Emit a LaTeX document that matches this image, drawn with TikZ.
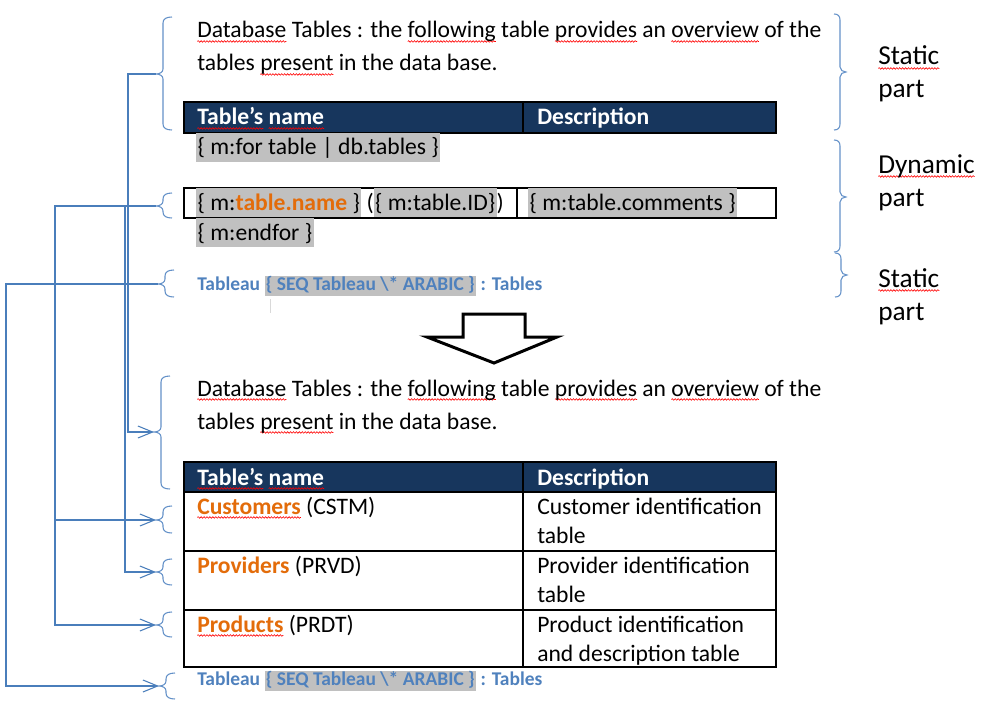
\documentclass[tikz,border=0pt]{standalone}
\usepackage{fontspec}
\setmainfont{Carlito}
\usetikzlibrary{arrows.meta,decorations.pathmorphing}

\definecolor{navy}{RGB}{23,54,93}
\definecolor{orng}{RGB}{227,108,10}
\definecolor{capblue}{RGB}{79,129,189}
\definecolor{hlgray}{RGB}{192,192,192}
\definecolor{linkblue}{RGB}{74,126,187}
\definecolor{bracecol}{RGB}{100,145,200}

\newsavebox\sqbox
\newcommand\sq[1]{\sbox\sqbox{#1}\leavevmode\rlap{\tikz[overlay,baseline=0pt]\draw[red, line width=0.45pt, decorate, decoration={snake, amplitude=0.6pt, segment length=2.2pt}] (0pt,-2.6pt) -- (\wd\sqbox,-2.6pt);}\usebox\sqbox}
\newcommand\hl[2][1.23em]{{\setlength\fboxsep{0pt}\colorbox{hlgray}{\rule[-0.3em]{0pt}{#1}\kern1pt#2\kern1pt}}}

\tikzstyle{body} = [font=\fontsize{17.7}{21}\selectfont, inner sep=0pt, anchor=base west]
\tikzstyle{head} = [body, text=white, font=\fontsize{17.7}{21}\selectfont\bfseries]
\tikzstyle{capt} = [body, text=capblue, font=\fontsize{14.6}{18}\selectfont\bfseries]
\tikzstyle{side} = [body, font=\fontsize{20.5}{24}\selectfont]
\tikzstyle{tbl} = [draw=black, line width=1.1pt]
\tikzstyle{brc} = [draw=bracecol, line width=0.8pt]
\tikzstyle{link} = [draw=linkblue, line width=0.8pt]
\tikzstyle{arr} = [link, -{Straight Barb[length=11pt,width=9pt]}]
\tikzstyle{bigarrow} = [draw=black, fill=white, line width=2.25pt, line join=miter]

% left brace: name, x, top, tip, bottom
\newcommand\lbr[5]{\draw[brc] (#2+9,#3) .. controls (#2+3,#3) and (#2,#3+2) .. (#2,#3+6)
  -- (#2,#4-5) .. controls (#2,#4-2) and (#2-3,#4) .. (#2-7,#4) coordinate (#1)
  .. controls (#2-3,#4) and (#2,#4+2) .. (#2,#4+5)
  -- (#2,#5-6) .. controls (#2,#5-2) and (#2+3,#5) .. (#2+9,#5);}
% right brace: name, x, top, tip, bottom
\newcommand\rbr[5]{\draw[brc] (#2-6,#3) .. controls (#2-2,#3) and (#2,#3+2) .. (#2,#3+6)
  -- (#2,#4-5) .. controls (#2,#4-2) and (#2+3,#4) .. (#2+6,#4) coordinate (#1)
  .. controls (#2+3,#4) and (#2,#4+2) .. (#2,#4+5)
  -- (#2,#5-6) .. controls (#2,#5-2) and (#2-2,#5) .. (#2-6,#5);}

\begin{document}
\begin{tikzpicture}[x=0.75pt, y=-0.75pt]

	\useasboundingbox (0,0) rectangle (984,706);

	% template
	\node[body] (intro1) at (197,38) {\sq{Database} Tables : the \sq{following} table \sq{provides} an \sq{overview} of the};
	\node[body] (intro2) at (197,71) {tables \sq{present} in the data base.};

	\fill[navy] (184,102) rectangle (776,133);
	\draw[tbl] (184,102) rectangle (776,133) (523,102) -- (523,133);
	\node[head] (hname1) at (197,125) {\sq{Table’s} \sq{name}};
	\node[head] (hdesc1) at (537,125) {Description};

	\node[body] (forline) at (196,155) {\hl{\{ m:for table | db.tables \}}};
	\draw[tbl] (184,188) rectangle (776,218) (517,188) -- (517,218);
	\node[body] (fname) at (196,210) {\hl{\{ m:\textcolor{orng}{\bfseries table.name} \}} (\hl{\{ m:table.ID\}})};
	\node[body] (fcomm) at (528,210) {\hl{\{ m:table.comments \}}};
	\node[body] (endline) at (196,240) {\hl{\{ m:endfor \}}};

	\node[capt] (cap1) at (197,290) {Tableau \hl[1.03em]{\{ SEQ Tableau \textbackslash* ARABIC \}} : Tables};
	\draw[black!15] (270,299) -- (270,313);

	\draw[bigarrow] (463,314) -- (525,314) -- (525,337) -- (557,337) -- (494,363) -- (427,337) -- (463,337) -- cycle;

	% result
	\node[body] (intro3) at (197,396) {\sq{Database} Tables : the \sq{following} table \sq{provides} an \sq{overview} of the};
	\node[body] (intro4) at (197,429) {tables \sq{present} in the data base.};

	\fill[navy] (184,462) rectangle (776,492);
	\draw[tbl] (184,462) rectangle (776,667) (523,462) -- (523,667) (184,492) -- (776,492);
	\foreach \y in {551,610}
		\draw[tbl] (184,\y) -- (776,\y);
	\node[head] (hname2) at (197,485) {\sq{Table’s} \sq{name}};
	\node[head] (hdesc2) at (537,485) {Description};

	\foreach \r/\nm/\cd/\da/\db in {492/\sq{Customers}/CSTM/Customer identification/table, 551/Providers/PRVD/Provider identification/table, 610/\sq{Products}/PRDT/Product identification/and description table}{
		\node[body] (n\cd) at (197,\r+22) {\textcolor{orng}{\bfseries\nm} (\cd)};
		\node[body] (a\cd) at (537,\r+22) {\da};
		\node[body] (b\cd) at (537,\r+51) {\db};
	}

	\node[capt] (cap2) at (197,685) {Tableau \hl[1.03em]{\{ SEQ Tableau \textbackslash* ARABIC \}} : Tables};

	% braces
	\lbr{ts1}{163}{17}{74}{130}
	\lbr{dyn}{163}{193}{206}{218}
	\lbr{ts2}{165}{270}{284}{297}
	\lbr{bs1}{161}{376}{432}{489}
	\lbr{bcust}{163}{506}{520}{533}
	\lbr{bprov}{163}{559}{572}{585}
	\lbr{bprod}{163}{612}{625}{637}
	\lbr{bcap}{166}{673}{686}{699}

	\rbr{rs1}{840}{14}{72}{130}
	\rbr{rdyn}{840}{140}{197}{252}
	\rbr{rs2}{841}{253}{275}{297}

	\node[side] (lab1a) at (878,65) {\sq{Static}};
	\node[side] (lab1b) at (878,98) {part};
	\node[side] (lab2a) at (878,173) {\sq{Dynamic}};
	\node[side] (lab2b) at (878,206) {part};
	\node[side] (lab3a) at (878,287) {\sq{Static}};
	\node[side] (lab3b) at (878,320) {part};

	% connectors
	\draw[arr] (ts1) -- ++(-28,0) |- (bs1);
	\draw[arr] (dyn) -- ++(-101,0) |- (bcust);
	\draw[arr] (dyn) -- ++(-101,0) |- (bprod);
	\draw[arr] (dyn) -- ++(-31,0) |- (bprov);
	\draw[arr] (ts2) -- ++(-152,0) |- (bcap);

\end{tikzpicture}
\end{document}
